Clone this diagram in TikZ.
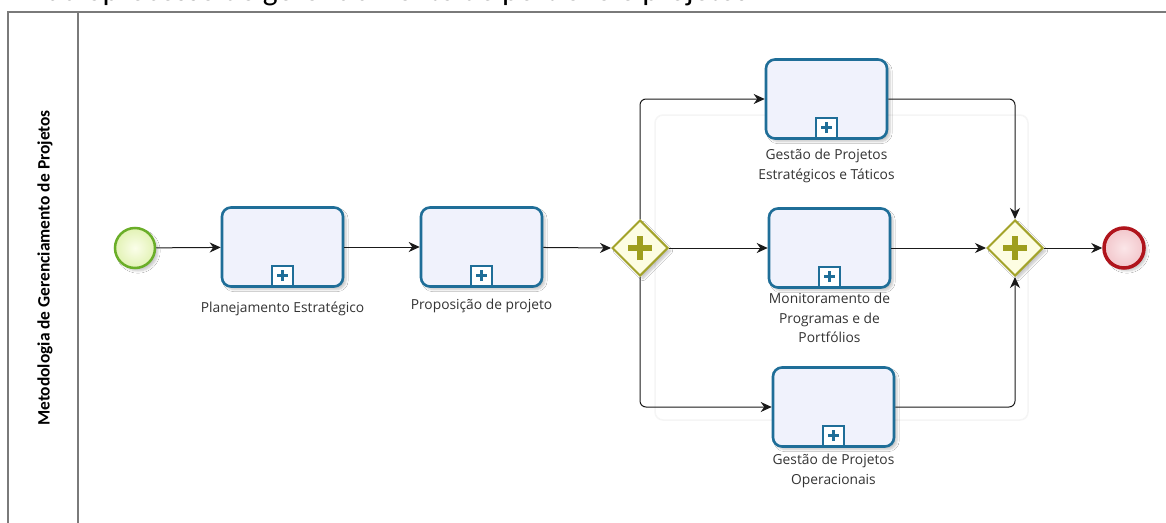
\documentclass[tikz,border=0pt]{standalone}
\usepackage{fontspec}
\setmainfont{Open Sans}
\newfontfamily\lanefont{Carlito}
\usetikzlibrary{arrows.meta,shapes.geometric,shadows.blur}

\definecolor{taskline}{HTML}{1F6E98}
\definecolor{taskfill}{HTML}{F0F2FC}
\definecolor{gwline}{HTML}{A3A32A}
\definecolor{gwfill}{HTML}{FDFDE2}
\definecolor{gwplus}{HTML}{9E9E1E}
\definecolor{startline}{HTML}{6AAE28}
\definecolor{endline}{HTML}{B0141C}
\definecolor{poolline}{HTML}{7A7A7A}
\definecolor{flowline}{HTML}{1A1A1A}
\definecolor{textcol}{HTML}{333333}
\definecolor{startinner}{HTML}{FBFEEA}
\definecolor{startouter}{HTML}{E2F2B4}
\definecolor{endinner}{HTML}{FBE6E8}
\definecolor{endouter}{HTML}{F2C6CB}

\tikzset{
  softshadow/.style={blur shadow={shadow xshift=3pt, shadow yshift=-3pt, shadow opacity=22, shadow blur steps=6}},
  task/.style={draw=taskline, line width=2.6pt, rounded corners=9pt, fill=taskfill,
    minimum width=121pt, minimum height=79pt, inner sep=0pt, softshadow},
  marker/.style={draw=taskline, line width=2pt, fill=white, minimum width=21pt, minimum height=20pt,
    inner sep=0pt, anchor=south,
    path picture={\draw[taskline, line width=3.2pt]
      ([xshift=-5.5pt]path picture bounding box.center) -- ([xshift=5.5pt]path picture bounding box.center)
      ([yshift=-5.5pt]path picture bounding box.center) -- ([yshift=5.5pt]path picture bounding box.center);}},
  gateway/.style={diamond, draw=gwline, line width=2pt, fill=gwfill, minimum width=56pt, minimum height=56pt,
    inner sep=0pt, softshadow,
    path picture={\draw[gwplus, line width=6.5pt]
      ([xshift=-12pt]path picture bounding box.center) -- ([xshift=12pt]path picture bounding box.center)
      ([yshift=-12pt]path picture bounding box.center) -- ([yshift=12pt]path picture bounding box.center);}},
  startev/.style={circle, draw=startline, line width=2.5pt, minimum size=40pt, inner sep=0pt,
    inner color=startinner, outer color=startouter, softshadow},
  endev/.style={circle, draw=endline, line width=3.5pt, minimum size=40pt, inner sep=0pt,
    inner color=endinner, outer color=endouter, softshadow},
  lbl/.style={text=textcol, font=\fontsize{13.8}{19.6}\selectfont, align=center, anchor=north, inner sep=0pt},
  flow/.style={draw=flowline, line width=1pt, rounded corners=6pt,
    -{Stealth[length=11pt, width=10pt, inset=3.5pt]}},
}

\begin{document}
\begin{tikzpicture}[x=1pt, y=-1pt]
  \useasboundingbox (0,0) rectangle (1166,522);
  \fill[white] (0,0) rectangle (1166,522);

  % caption above the pool, mostly beyond the top edge
  \node[anchor=base west, inner sep=0pt, text=black, font=\lanefont\fontsize{31.5}{31.5}\selectfont]
    (caption) at (20,0.5) {Macroprocesso de gerenciamento de portfólio e projetos};

  % pool and lane frame
  \draw[poolline, line width=1.3pt] (1172,12) -- (8,12) -- (8,530);
  \draw[poolline, line width=1.3pt] (78,12) -- (78,530);
  \node[rotate=90, font=\lanefont\bfseries\fontsize{17.4}{17.4}\selectfont, text=black]
    (lane) at (45,268) {Metodologia de Gerenciamento de Projetos};

  % faint outline behind the parallel branch
  \draw[black!4, line width=1.5pt, rounded corners=8pt] (655,115) rectangle (1028,420);

  % events, tasks and gateways
  \node[startev] (start) at (135,248) {};
  \node[task] (plan) at (282.5,247) {};
  \node[task] (prop) at (481.5,247) {};
  \node[gateway] (split) at (640,248) {};
  \node[task] (gpet) at (826.5,99) {};
  \node[task] (mon) at (829.5,248) {};
  \node[task] (gpo) at (833.5,407) {};
  \node[gateway] (join) at (1015,248) {};
  \node[endev] (end) at (1124,248) {};

  % collapsed sub-process markers
  \foreach \t in {plan,prop,gpet,mon,gpo}
    \node[marker] (\t-m) at ([yshift=1.3pt]\t.south) {};

  % task labels
  \node[lbl] (plan-l) at ([yshift=-14pt]plan.south) {Planejamento Estratégico};
  \node[lbl] (prop-l) at ([yshift=-11pt]prop.south) {Proposição de projeto};
  \node[lbl] (gpet-l) at ([yshift=-9pt]gpet.south) {Gestão de Projetos\\Estratégicos e Táticos};
  \node[lbl] (mon-l) at ([yshift=-4pt]mon.south) {Monitoramento de\\Programas e de\\Portfólios};
  \node[lbl] (gpo-l) at ([yshift=-6pt]gpo.south) {Gestão de Projetos\\Operacionais};

  % sequence flows
  \draw[flow] (start) -- (plan);
  \draw[flow] (plan) -- (prop);
  \draw[flow] (prop) -- (split.west);
  \draw[flow] (split.east) -- (mon.west);
  \draw[flow] (split.north) |- (gpet.west);
  \draw[flow] (split.south) |- (gpo.west);
  \draw[flow] (gpet.east) -| (join.north);
  \draw[flow] (mon.east) -- (join.west);
  \draw[flow] (gpo.east) -| (join.south);
  \draw[flow] (join.east) -- (end.west);
\end{tikzpicture}
\end{document}
